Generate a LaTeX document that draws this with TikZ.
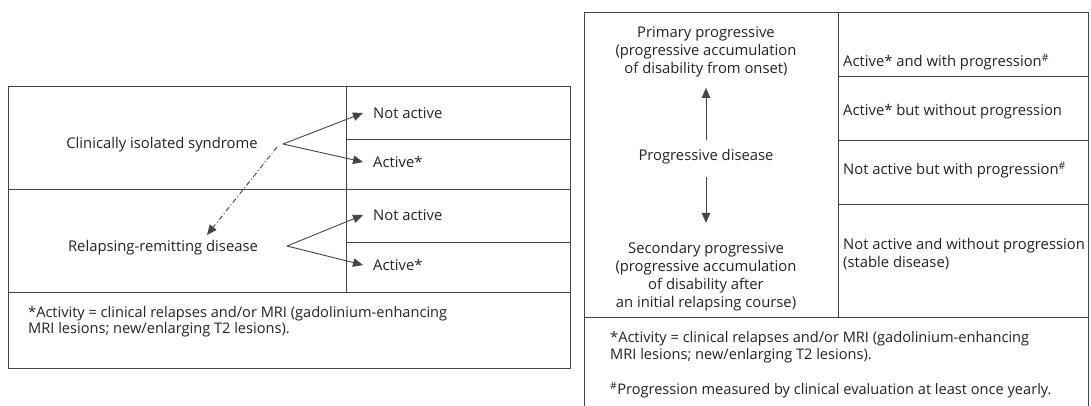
\documentclass[tikz,border=0pt]{standalone}
\usepackage{fontspec}
\setmainfont{Open Sans}
\usetikzlibrary{arrows.meta}
\definecolor{linec}{HTML}{454545}
\definecolor{txt}{HTML}{222222}
\begin{document}
\begin{tikzpicture}[x=1pt,y=-1pt,
  frame/.style={draw=linec, line width=0.9pt},
  lbl/.style={inner sep=0pt, text=txt, font=\fontsize{14.8}{18}\selectfont},
  opt/.style={lbl, anchor=west, inner xsep=10pt},
  note/.style={inner sep=0pt, text=txt, anchor=west, align=left, font=\fontsize{14.6}{16.5}\selectfont},
  arr/.style={draw=linec, line width=0.9pt, -{Triangle[length=10pt,width=8.5pt]}}]
\useasboundingbox (0,0) rectangle (1091,405);
% ---------- left box ----------
\draw[frame] (8,86) rectangle (570,368);
\draw[frame] (8,189) -- (570,189);
\draw[frame] (8,292) -- (570,292);
\draw[frame] (346,86) -- (346,292);
\draw[frame] (346,139) -- (570,139);
\draw[frame] (346,242) -- (570,242);
\node[lbl] (cis) at (162,145) {Clinically isolated syndrome};
\node[lbl] (rrd) at (163,248) {Relapsing-remitting disease};
\node[opt] (na1) at (363,113) {Not active};
\node[opt] (a1) at (363,162) {Active*};
\node[opt] (na2) at (363,215) {Not active};
\node[opt] (a2) at (363,265) {Active*};
\coordinate (b1) at (283,144);
\coordinate (b2) at (287,246);
\draw[arr] (b1) -- (na1.west);
\draw[arr] (b1) -- (a1.west);
\draw[arr] (b2) -- (na2.west);
\draw[arr] (b2) -- (a2.west);
\coordinate (d1) at (277,147);
\coordinate (d2) at (207,235);
\draw[arr, dash pattern=on 5pt off 2.5pt on 1pt off 2.5pt] (d1) -- (d2);
\node[note] (fn1) at (28,321.5) {*Activity = clinical relapses and/or MRI (gadolinium-enhancing\\MRI lesions; new/enlarging T2 lesions).};
% ---------- right box ----------
\draw[frame] (584,406) -- (584,12) -- (1088,12) -- (1088,406);
\draw[frame] (838,12) -- (838,317);
\draw[frame] (838,76) -- (1088,76);
\draw[frame] (838,140) -- (1088,140);
\draw[frame] (838,204) -- (1088,204);
\draw[frame] (584,317) -- (1088,317);
\node[lbl, align=center] (pp) at (706,52) {Primary progressive\\(progressive accumulation\\of disability from onset)};
\node[lbl] (pd) at (706,157) {Progressive disease};
\node[lbl, align=center] (sp) at (706,277) {Secondary progressive\\(progressive accumulation\\of disability after\\an initial relapsing course)};
\draw[arr, shorten <=9.5pt, shorten >=10.5pt] (pd.north) -- (pp.south);
\draw[arr, shorten <=12.5pt, shorten >=19.5pt] (pd.south) -- (sp.north);
\node[lbl, anchor=west] (r1) at (843,62) {Active* and with progression\textsuperscript{\#}};
\node[lbl, anchor=west] (r2) at (843,112) {Active* but without progression};
\node[lbl, anchor=west] (r3) at (843,170) {Not active but with progression\textsuperscript{\#}};
\node[lbl, anchor=west, align=left] (r4) at (843,254) {Not active and without progression\\(stable disease)};
\node[note] (fn2) at (610,347) {*Activity = clinical relapses and/or MRI (gadolinium-enhancing\\MRI lesions; new/enlarging T2 lesions).};
\node[note] (fn3) at (610,390) {\textsuperscript{\#}Progression measured by clinical evaluation at least once yearly.};
\end{tikzpicture}
\end{document}
